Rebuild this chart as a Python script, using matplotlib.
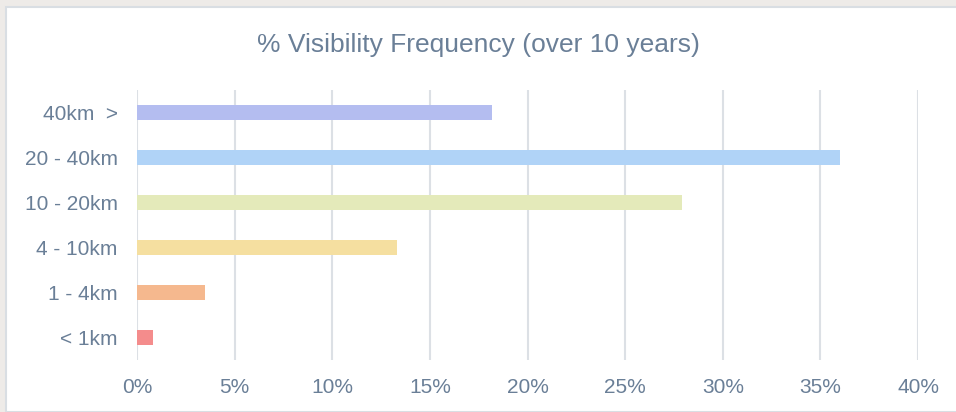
import matplotlib

matplotlib.use("Agg")
import matplotlib.pyplot as plt
from matplotlib.patches import Rectangle

# Visibility bands, top to bottom as drawn
categories = ["40km  >", "20 - 40km", "10 - 20km", "4 - 10km", "1 - 4km", "< 1km"]
frequency = [18.2, 36.0, 27.9, 13.3, 3.5, 0.8]
bar_colors = ["#B4BDF0", "#B0D3F7", "#E4EABA", "#F5DFA0", "#F5B88E", "#F48C8C"]
x_ticks = [0, 5, 10, 15, 20, 25, 30, 35, 40]

TEXT = "#6A7F97"
GRID = "#DCE0E5"
plt.rcParams["font.family"] = ["Liberation Sans", "DejaVu Sans"]

fig = plt.figure(figsize=(9.56, 4.12), dpi=100)
fig.patch.set_facecolor("#EEEBE8")
# white card with a faint edge, like the dashboard panel
fig.add_artist(Rectangle((6 / 956, 0), 1, 1 - 7 / 412, transform=fig.transFigure,
                         facecolor="white", edgecolor="#D9DEE3", lw=1.5, zorder=-1))

ax = fig.add_axes([137 / 956, 1 - 360 / 412, (918 - 137) / 956, 270 / 412], zorder=1)
ax.set_facecolor("none")

ypos = list(range(len(categories)))
ax.barh(ypos, frequency, height=0.33, color=bar_colors, zorder=3)
ax.set_ylim(len(categories) - 0.5, -0.5)
ax.set_xlim(0, 40)

ax.set_yticks(ypos)
ax.set_yticklabels(categories)
ax.set_xticks(x_ticks)
ax.set_xticklabels([f"{t}%" for t in x_ticks])
ax.tick_params(axis="both", length=0, colors=TEXT, labelsize=15)
ax.tick_params(axis="y", pad=14)
ax.tick_params(axis="x", pad=13)

ax.grid(axis="x", color=GRID, lw=1.5, zorder=0)
for s in ax.spines.values():
    s.set_visible(False)

fig.text(0.5, 1 - 45 / 412, "% Visibility Frequency (over 10 years)", ha="center", va="center",
         color=TEXT, fontsize=19)

fig.savefig("out.png", dpi=100, facecolor=fig.get_facecolor())
